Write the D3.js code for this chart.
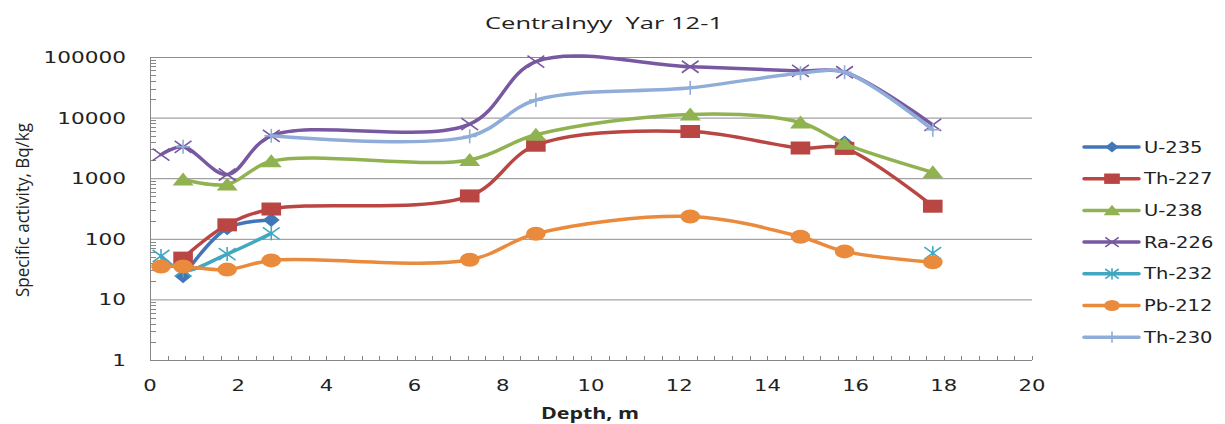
<!DOCTYPE html>
<html>
<head>
<meta charset="utf-8">
<script src="https://cdn.jsdelivr.net/npm/d3@7"></script>
<style>
  body { margin: 0; background: #fff; }
  svg { display: block; }
</style>
</head>
<body>
<svg width="1225" height="424"></svg>
<script>
// depths of the samples, m
var depths = [0.25, 0.75, 1.75, 2.75, 7.25, 8.75, 12.25, 14.75, 15.75, 17.75];

// specific activity, Bq/kg (null = no value)
var u235  = [null, 24, 150, 205, null, null, null, null, 3900, null];
var th227 = [null, 48, 170, 310, 510, 3500, 5900, 3150, 3100, 345];
var u238  = [null, 950, 790, 1900, 2000, 5200, 11300, 8300, 3700, 1250];
var ra226 = [2450, 3300, 1150, 5000, 7800, 84000, 69000, 59000, 56000, 7600];
var th232 = [52, 30, 56, 123, null, null, null, null, null, 58];
var pb212 = [35, 35, 31, 44, 45, 121, 233, 108, 62, 41];
var th230 = [null, 3300, null, 5000, 4900, 19500, 31000, 54000, 56000, 6300];

var seriesNames = ['U-235', 'Th-227', 'U-238', 'Ra-226', 'Th-232', 'Pb-212', 'Th-230'];
var seriesValues = [u235, th227, u238, ra226, th232, pb212, th230];
var seriesColors = ['#4276b8', '#b94643', '#90b250', '#7858a0', '#42a7c1', '#ea8a3c', '#8fadd8'];
var seriesMarkers = ['diamond', 'square', 'triangle', 'x', 'star', 'circle', 'plus'];

var yTicks = [1, 10, 100, 1000, 10000, 100000];
var xTicks = [0, 2, 4, 6, 8, 10, 12, 14, 16, 18, 20];

var svg = d3.select('svg');

var x = d3.scaleLinear().domain([0, 20]).range([150, 1032]);
var y = d3.scaleLog().domain([1, 100000]).range([360, 57]);

// stretch text sideways like the original picture
var stretch = function(sel, k){
  sel.each(function(){
    var w = this.getComputedTextLength();
    d3.select(this).attr('textLength', w * k).attr('lengthAdjust', 'spacingAndGlyphs');
  });
};

// gridlines
svg.append('g').selectAll('line')
  .data(yTicks.slice(1))
  .enter().append('line')
    .attr('x1', x(0)).attr('x2', x(20))
    .attr('y1', function(d){ return y(d) + 0.5; })
    .attr('y2', function(d){ return y(d) + 0.5; })
    .attr('stroke', '#8c8c8c')
    .attr('stroke-width', 1);

// axis lines
svg.append('line')
  .attr('x1', x(0) + 0.5).attr('x2', x(0) + 0.5)
  .attr('y1', y(100000)).attr('y2', y(1) + 0.5)
  .attr('stroke', '#868686');
svg.append('line')
  .attr('x1', x(0)).attr('x2', x(20))
  .attr('y1', y(1) + 0.5).attr('y2', y(1) + 0.5)
  .attr('stroke', '#868686');

// minor ticks on the log axis (inside)
var yMinor = [];
yTicks.slice(0, -1).forEach(function(d){
  for (var m = 2; m <= 9; m++) yMinor.push(d * m);
});
svg.append('g').selectAll('line')
  .data(yMinor)
  .enter().append('line')
    .attr('x1', x(0)).attr('x2', x(0) + 6)
    .attr('y1', function(d){ return Math.round(y(d)) + 0.5; })
    .attr('y2', function(d){ return Math.round(y(d)) + 0.5; })
    .attr('stroke', '#868686');

// minor ticks on depth axis, every 0.4 m (inside)
var xMinor = d3.range(1, 51).map(function(i){ return i * 0.4; });
svg.append('g').selectAll('line')
  .data(xMinor)
  .enter().append('line')
    .attr('x1', function(d){ return Math.round(x(d)) + 0.5; })
    .attr('x2', function(d){ return Math.round(x(d)) + 0.5; })
    .attr('y1', y(1)).attr('y2', y(1) - 4)
    .attr('stroke', '#868686');

// tick labels
svg.append('g').selectAll('text')
  .data(yTicks)
  .enter().append('text')
    .attr('x', 126)
    .attr('y', function(d){ return y(d) + 6; })
    .attr('text-anchor', 'end')
    .attr('font-family', 'DejaVu Sans')
    .attr('font-size', 16)
    .attr('fill', '#222')
    .text(function(d){ return d; })
    .call(stretch, 1.35);

svg.append('g').selectAll('text')
  .data(xTicks)
  .enter().append('text')
    .attr('x', function(d){ return x(d); })
    .attr('y', 391)
    .attr('text-anchor', 'middle')
    .attr('font-family', 'DejaVu Sans')
    .attr('font-size', 16)
    .attr('fill', '#222')
    .text(function(d){ return d; })
    .call(stretch, 1.32);

// titles
svg.append('text')
  .attr('x', 604).attr('y', 29)
  .attr('text-anchor', 'middle')
  .attr('font-family', 'Open Sans')
  .attr('font-size', 17)
  .attr('fill', '#222')
  .style('white-space', 'pre')
  .attr('textLength', 238)
  .attr('lengthAdjust', 'spacingAndGlyphs')
  .text('Centralnyy  Yar 12-1');

svg.append('text')
  .attr('transform', 'translate(29,210) rotate(-90)')
  .attr('text-anchor', 'middle')
  .attr('font-family', 'Open Sans')
  .attr('font-size', 18)
  .attr('fill', '#222')
  .attr('textLength', 174)
  .attr('lengthAdjust', 'spacingAndGlyphs')
  .text('Specific activity, Bq/kg');

svg.append('text')
  .attr('x', 590).attr('y', 419)
  .attr('text-anchor', 'middle')
  .attr('font-family', 'Open Sans')
  .attr('font-weight', 'bold')
  .attr('font-size', 16)
  .attr('fill', '#222')
  .attr('textLength', 98)
  .attr('lengthAdjust', 'spacingAndGlyphs')
  .text('Depth, m');

// markers are drawn in a small box and widened like the picture
var drawMarker = function(g, type, color, s){
  var m = g.append('g');
  if (type === 'diamond') {
    m.append('path').attr('d', 'M0,-7L6,0L0,7L-6,0Z').attr('fill', color);
  } else if (type === 'square') {
    m.append('rect').attr('x', -7).attr('y', -6.5).attr('width', 14).attr('height', 13).attr('fill', color);
  } else if (type === 'triangle') {
    m.append('path').attr('d', 'M0,-7L7.5,6L-7.5,6Z').attr('fill', color);
  } else if (type === 'circle') {
    m.append('circle').attr('r', 7).attr('fill', color);
  } else {
    var segs = [];
    if (type === 'x' || type === 'star') segs.push([-6, -6, 6, 6], [-6, 6, 6, -6]);
    if (type === 'star') segs.push([0, -7, 0, 7]);
    if (type === 'plus') segs.push([0, -7, 0, 7], [-5, 0, 5, 0]);
    m.selectAll('line').data(segs).enter().append('line')
      .attr('x1', function(d){ return d[0]; })
      .attr('y1', function(d){ return d[1]; })
      .attr('x2', function(d){ return d[2]; })
      .attr('y2', function(d){ return d[3]; })
      .attr('stroke', color)
      .attr('stroke-width', 1.6)
      .attr('vector-effect', 'non-scaling-stroke');
  }
  m.attr('transform', 'scale(' + (1.4 * s) + ',' + s + ')');
};

var line = d3.line()
  .defined(function(d){ return d.v !== null; })
  .x(function(d){ return x(d.depth); })
  .y(function(d){ return y(d.v); })
  .curve(d3.curveCatmullRom.alpha(0.5));

var plot = svg.append('g');

seriesNames.forEach(function(name, i){
  var pts = depths.map(function(dp, j){ return { depth: dp, v: seriesValues[i][j] }; });
  var g = plot.append('g').attr('class', 'series');

  g.append('path')
    .datum(pts)
    .attr('d', line)
    .attr('fill', 'none')
    .attr('stroke', seriesColors[i])
    .attr('stroke-width', 3.5)
    .attr('stroke-linecap', 'round')
    .attr('stroke-linejoin', 'round');

  g.selectAll('g.mark')
    .data(pts.filter(function(d){ return d.v !== null; }))
    .enter().append('g')
      .attr('class', 'mark')
      .attr('transform', function(d){ return 'translate(' + x(d.depth) + ',' + y(d.v) + ')'; })
      .each(function(){ drawMarker(d3.select(this), seriesMarkers[i], seriesColors[i], 1); });
});

// legend
var legend = svg.append('g');
seriesNames.forEach(function(name, i){
  var ly = 147 + i * 31.7;
  var item = legend.append('g');
  item.append('line')
    .attr('x1', 1084).attr('x2', 1139)
    .attr('y1', ly).attr('y2', ly)
    .attr('stroke', seriesColors[i])
    .attr('stroke-width', 3.5)
    .attr('stroke-linecap', 'round');
  var mk = item.append('g').attr('transform', 'translate(1112,' + ly + ')');
  drawMarker(mk, seriesMarkers[i], seriesColors[i], 0.8);
  item.append('text')
    .attr('x', 1144)
    .attr('y', ly + 5.5)
    .attr('font-family', 'DejaVu Sans')
    .attr('font-size', 15)
    .attr('fill', '#222')
    .text(name)
    .call(stretch, 1.3);
});
</script>
</body>
</html>
